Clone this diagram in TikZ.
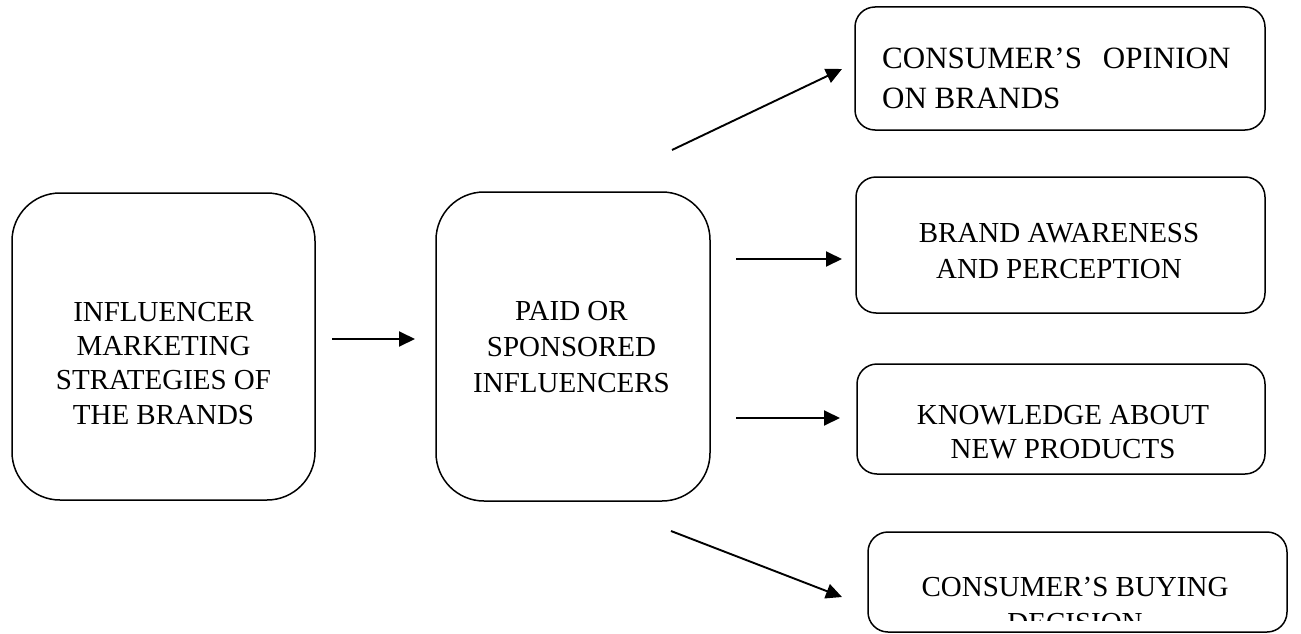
\documentclass[tikz,border=0pt]{standalone}
\usepackage{fontspec}
\setmainfont{Liberation Serif}
\usetikzlibrary{arrows.meta}
\begin{document}
\begin{tikzpicture}[x=1pt,y=-1pt,
  box/.style={draw, line width=1.5pt, rounded corners=20pt, inner sep=0pt},
  bigbox/.style={box, rounded corners=48pt},
  txt/.style={inner sep=0pt, align=center, anchor=north},
  arr/.style={line width=1.9pt, -{Triangle[length=16pt,width=15pt]}}]
\useasboundingbox (0,0) rectangle (1301,634);
% boxes
\node[bigbox, minimum width=303pt, minimum height=307pt] (b1) at (163.5,346.5) {};
\node[bigbox, minimum width=274pt, minimum height=309pt] (b2) at (573,346.5) {};
\node[box, minimum width=410pt, minimum height=123pt] (b3) at (1060,68.5) {};
\node[box, minimum width=409pt, minimum height=136pt] (b4) at (1060.5,245) {};
\node[box, minimum width=408pt, minimum height=110pt] (b5) at (1061,419) {};
\node[box, minimum width=419pt, minimum height=100pt] (b6) at (1077.5,582) {};
% texts
\node[txt, font=\fontsize{29}{34.2}\selectfont] (t1) at (163.5,302)
  {INFLUENCER\\MARKETING\\STRATEGIES OF\\THE BRANDS};
\node[txt, font=\fontsize{29}{36}\selectfont] (t2) at (571.5,301)
  {PAID OR\\SPONSORED\\INFLUENCERS};
\node[txt, anchor=north west, align=left, font=\fontsize{31}{39.5}\selectfont] (t3) at (882,48)
  {CONSUMER’S\hspace{21pt}OPINION\\ON BRANDS};
\node[txt, font=\fontsize{29}{36}\selectfont] (t4) at (1059,223)
  {BRAND AWARENESS\\AND PERCEPTION};
\node[txt, font=\fontsize{29}{34.5}\selectfont] (t5) at (1063,405)
  {KNOWLEDGE ABOUT\\NEW PRODUCTS};
\begin{scope}
  \clip (868,532) rectangle (1287,620);
  \node[txt, font=\fontsize{29}{36}\selectfont] (t6) at (1075,577)
    {CONSUMER’S BUYING\\DECISION};
\end{scope}
% arrow end points
\coordinate (a1s) at (332,339);  \coordinate (a1e) at (415,339);
\coordinate (a2s) at (672,150);  \coordinate (a2e) at (842,69);
\coordinate (a3s) at (736,259);  \coordinate (a3e) at (842,259);
\coordinate (a4s) at (736,418);  \coordinate (a4e) at (840,418);
\coordinate (a5s) at (671,531);  \coordinate (a5e) at (842,597);
\draw[arr] (a1s) -- (a1e);
\draw[arr] (a2s) -- (a2e);
\draw[arr] (a3s) -- (a3e);
\draw[arr] (a4s) -- (a4e);
\draw[arr] (a5s) -- (a5e);
\end{tikzpicture}
\end{document}
